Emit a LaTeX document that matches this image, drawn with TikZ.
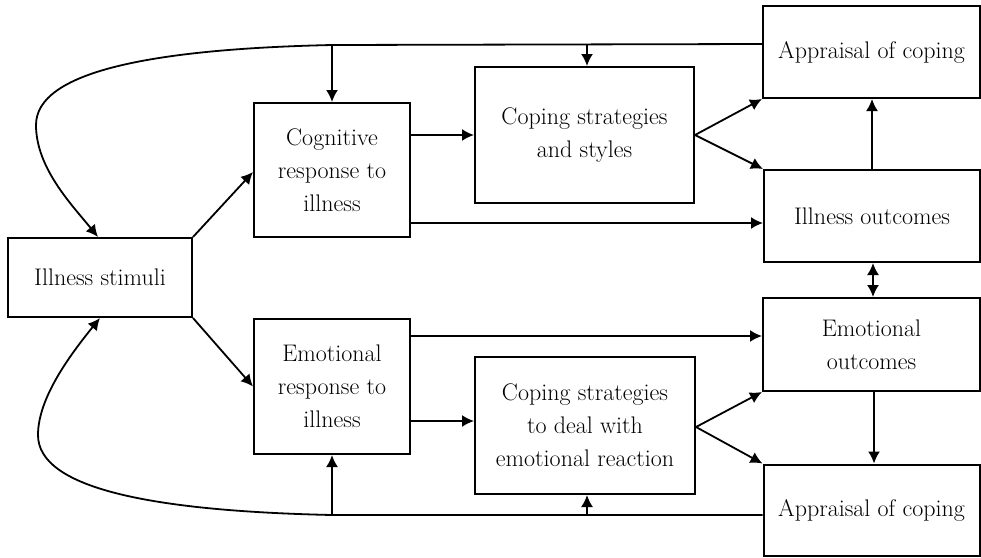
\documentclass[tikz,border=0pt]{standalone}
\usetikzlibrary{arrows.meta,calc}
\begin{document}
\begin{tikzpicture}[x=1pt,y=-1pt,
  box/.style={draw,line width=2pt,rectangle,inner sep=0pt,align=center,
    font=\fontsize{24}{33}\selectfont},
  arr/.style={line width=1.8pt,-{Latex[length=12pt,width=12pt]}},
  darr/.style={line width=1.8pt,{Latex[length=12pt,width=12pt]}-{Latex[length=12pt,width=12pt]}}]
\fill[white] (0,0) rectangle (981,557);
\useasboundingbox (0,0) rectangle (981,557);
\node[box,minimum width=184pt,minimum height=79pt] (stim) at (100,277.5) {Illness stimuli};
\node[box,minimum width=156pt,minimum height=134pt] (cog) at (332,170) {Cognitive\\response to\\illness};
\node[box,minimum width=156pt,minimum height=135pt] (emo) at (332,386.5) {Emotional\\response to\\illness};
\node[box,minimum width=219pt,minimum height=136pt] (cs) at (584.5,135) {Coping strategies\\and styles};
\node[box,minimum width=220pt,minimum height=137pt] (ce) at (585,425.5) {Coping strategies\\to deal with\\emotional reaction};
\node[box,minimum width=217pt,minimum height=92pt] (ap1) at (871.5,52) {Appraisal of coping};
\node[box,minimum width=216pt,minimum height=92pt] (io) at (872,216) {Illness outcomes};
\node[box,minimum width=217pt,minimum height=93pt] (eo) at (871.5,344.5) {Emotional\\outcomes};
\node[box,minimum width=216pt,minimum height=91pt] (ap2) at (871.5,510) {Appraisal of coping};
% top feedback
\coordinate (ts) at ([yshift=8pt]ap1.west);
\coordinate (tl) at (cog.north |- 0,45);
\coordinate (tm) at (587,44.5);
\draw[arr] (ts) -- (tl) .. controls (150,49) and (36,72) .. (36,125) .. controls (36,168) and (72,205) .. ([xshift=-2pt]stim.north);
\draw[arr] (tl) -- (cog.north);
\draw[arr] (tm) -- (tm |- cs.north);
% bottom feedback
\coordinate (bs) at ([yshift=-5pt]ap2.west);
\coordinate (bl) at (emo.south |- 0,515);
\coordinate (bm) at (587,515);
\draw[arr] (bs) -- (bl) .. controls (150,511) and (38,488) .. (38,435) .. controls (38,398) and (70,355) .. (stim.south);
\draw[arr] (bl) -- (emo.south);
\draw[arr] (bm) -- (bm |- ce.south);
% stimuli to responses
\draw[arr] (stim.north east) -- ([yshift=-2pt]cog.west);
\draw[arr] (stim.south east) -- (emo.west);
% cognitive
\draw[arr] (cog.east |- cs.west) -- (cs.west);
\coordinate (c1) at ([yshift=-7pt]io.west);
\draw[arr] (cog.east |- c1) -- (c1);
\draw[arr] (cs.east) -- (ap1.south west);
\draw[arr] (cs.east) -- (io.north west);
\draw[arr] (io.north) -- (io.north |- ap1.south);
\draw[darr] ([xshift=1pt]io.south) -- ([xshift=1pt]io.south |- eo.north);
% emotional
\coordinate (c2) at ([yshift=8.5pt]eo.west);
\draw[arr] (emo.east |- c2) -- (c2);
\coordinate (c3) at ([yshift=4.5pt]ce.west);
\draw[arr] (emo.east |- c3) -- (c3);
\draw[arr] ([yshift=-1.5pt]ce.east) -- (eo.south west);
\draw[arr] ([yshift=-1.5pt]ce.east) -- (ap2.north west);
\draw[arr] ([xshift=2.5pt]eo.south) -- ([xshift=2.5pt]eo.south |- ap2.north);
\end{tikzpicture}
\end{document}
